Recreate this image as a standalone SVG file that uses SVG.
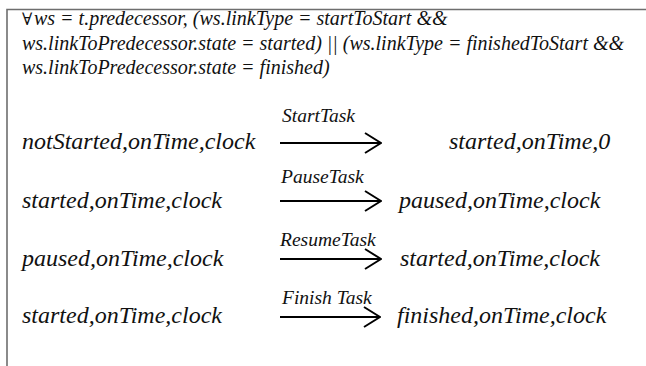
<svg xmlns="http://www.w3.org/2000/svg" width="646" height="366" viewBox="0 0 646 366">
<style>
text{font-family:'Liberation Serif','DejaVu Serif',serif;font-style:italic;fill:#111}
.cond{font-size:20px}
.st{font-size:24px}
.lbl{font-size:19.5px}
.forall{font-family:'DejaVu Serif',serif;font-style:normal;font-size:17px}
.arr{stroke:#000;stroke-width:2;fill:none}
.frame{stroke:#6e6e6e;stroke-width:1.6;fill:none}
</style>
<defs>
<marker id="head" markerUnits="userSpaceOnUse" viewBox="0 0 18 22" refX="17" refY="11" markerWidth="18" markerHeight="22" orient="auto">
<path d="M1,1 L17,11 L1,21" fill="none" stroke="#000" stroke-width="2"/>
</marker>
</defs>
<rect width="646" height="366" fill="#fff"/>
<path class="frame" d="M7,366 L7,9.5 L646,9.5"/>
<g id="condition">
<text class="forall" x="22" y="25">∀</text>
<text class="cond" x="34" y="25">ws = t.predecessor, (ws.linkType = startToStart &amp;&amp;</text>
<text class="cond" x="22" y="50">ws.linkToPredecessor.state = started) || (ws.linkType = finishedToStart &amp;&amp;</text>
<text class="cond" x="22" y="74">ws.linkToPredecessor.state = finished)</text>
</g>
<g id="s1-from"><text class="st" x="22" y="149">notStarted,onTime,clock</text></g>
<g id="s1-to"><text class="st" x="449" y="149">started,onTime,0</text></g>
<g id="s2-from"><text class="st" x="22" y="208">started,onTime,clock</text></g>
<g id="s2-to"><text class="st" x="399" y="208">paused,onTime,clock</text></g>
<g id="s3-from"><text class="st" x="22" y="266">paused,onTime,clock</text></g>
<g id="s3-to"><text class="st" x="400" y="266">started,onTime,clock</text></g>
<g id="s4-from"><text class="st" x="22" y="323">started,onTime,clock</text></g>
<g id="s4-to"><text class="st" x="397" y="323">finished,onTime,clock</text></g>
<g id="connectors">
<line class="arr" x1="280" y1="143" x2="381" y2="143" marker-end="url(#head)"/>
<text class="lbl" x="282" y="122">StartTask</text>
<line class="arr" x1="280" y1="201" x2="381" y2="201" marker-end="url(#head)"/>
<text class="lbl" x="281" y="183">PauseTask</text>
<line class="arr" x1="280" y1="259" x2="381" y2="259" marker-end="url(#head)"/>
<text class="lbl" x="280" y="246">ResumeTask</text>
<line class="arr" x1="280" y1="317" x2="380" y2="317" marker-end="url(#head)"/>
<text class="lbl" x="282" y="304">Finish Task</text>
</g>
</svg>
